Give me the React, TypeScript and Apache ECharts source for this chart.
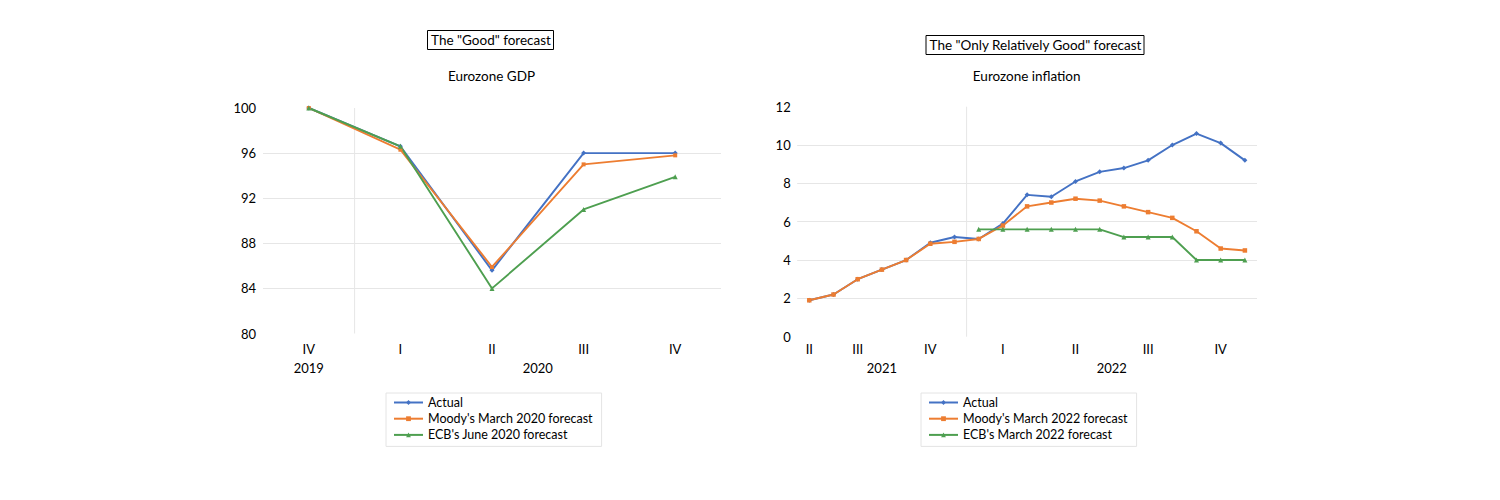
import React, { useEffect, useRef } from "react";
import * as echarts from "echarts";

// Eurozone GDP index (Q4 2019 = 100)
const gdpQuarters = ["2019 Q4", "2020 Q1", "2020 Q2", "2020 Q3", "2020 Q4"];
const gdpQuarterLabels = ["IV", "I", "II", "III", "IV"];
const gdpYearLabels = ["2019", "2020"];
const gdpYearStarts = [0, 1];
const gdpActual = [100, 96.6, 85.6, 96.0, 96.0];
const gdpMoodys = [100, 96.3, 85.9, 95.0, 95.8];
const gdpEcb = [100, 96.6, 84.0, 91.0, 93.9];
const gdpNames = ["Actual", "Moody's March 2020 forecast", "ECB's June 2020 forecast"];

// Eurozone HICP inflation, % y/y, monthly
const inflMonths = [
  "Jun 2021", "Jul 2021", "Aug 2021", "Sep 2021", "Oct 2021", "Nov 2021", "Dec 2021",
  "Jan 2022", "Feb 2022", "Mar 2022", "Apr 2022", "May 2022", "Jun 2022",
  "Jul 2022", "Aug 2022", "Sep 2022", "Oct 2022", "Nov 2022", "Dec 2022",
];
const inflQuarterLabels = [
  "II", "", "III", "", "", "IV", "",
  "", "I", "", "", "II", "", "", "III", "", "", "IV", "",
];
const inflYearLabels = ["2021", "2022"];
const inflYearStarts = [0, 7];
const inflActual = [1.9, 2.2, 3.0, 3.5, 4.0, 4.9, 5.2, 5.1, 5.9, 7.4, 7.3, 8.1, 8.6, 8.8, 9.2, 10.0, 10.6, 10.1, 9.2];
const inflMoodys = [1.9, 2.2, 3.0, 3.5, 4.0, 4.85, 4.95, 5.1, 5.8, 6.8, 7.0, 7.2, 7.1, 6.8, 6.5, 6.2, 5.5, 4.6, 4.5];
const inflEcb = [null, null, null, null, null, null, null, 5.6, 5.6, 5.6, 5.6, 5.6, 5.6, 5.2, 5.2, 5.2, 4.0, 4.0, 4.0];
const inflNames = ["Actual", "Moody's March 2022 forecast", "ECB's March 2022 forecast"];

const FONT = "Lato";
const BLUE = "#4472C4";
const ORANGE = "#ED7D31";
const GREEN = "#4E9F50";
const GRID_LINE = "#e6e6e6";

function lineSeries(name: string, data: (number | null)[], color: string, symbol: string, size: number, idx: number) {
  return {
    type: "line",
    name,
    data,
    xAxisIndex: idx,
    yAxisIndex: idx,
    symbol,
    symbolSize: size,
    showAllSymbol: true,
    connectNulls: false,
    lineStyle: { color, width: 1.9 },
    itemStyle: { color },
    emphasis: { disabled: true },
  };
}

function titleBox(text: string, center: number, top: number) {
  return {
    text,
    left: center - 4,
    top,
    textAlign: "center",
    borderColor: "#000",
    borderWidth: 1,
    padding: [3, 3, 3, 4],
    textStyle: { fontFamily: FONT, fontSize: 13.5, fontWeight: "normal", color: "#000" },
  };
}

function subTitle(text: string, center: number, top: number) {
  return {
    text,
    left: center,
    top,
    textAlign: "center",
    padding: 0,
    textStyle: { fontFamily: FONT, fontSize: 13.5, fontWeight: "normal", color: "#000" },
  };
}

function legendBox(names: string[], left: number) {
  return {
    data: names,
    orient: "vertical",
    left,
    top: 393,
    itemWidth: 29,
    itemHeight: 6,
    itemGap: 3.2,
    padding: [3, 9, 5, 7],
    borderColor: "#e4e4e4",
    borderWidth: 1,
    selectedMode: false,
    textStyle: { fontFamily: FONT, fontSize: 12.5, lineHeight: 13, color: "#000" },
  };
}

export default function App() {
  const ref = useRef<HTMLDivElement>(null);

  useEffect(() => {
    if (!ref.current) return;
    const chart = echarts.init(ref.current, undefined, { renderer: "svg" });

    const axisText = { fontFamily: FONT, fontSize: 13, color: "#000" };

    chart.setOption({
      animation: false,
      backgroundColor: "#fff",
      textStyle: { fontFamily: FONT },
      title: [
        titleBox('The "Good" forecast', 491, 30),
        subTitle("Eurozone GDP", 491.5, 69),
        titleBox('The "Only Relatively Good" forecast', 1035.5, 35),
        subTitle("Eurozone inflation", 1026.7, 69),
      ],
      legend: [legendBox(gdpNames, 386), legendBox(inflNames, 921)],
      grid: [
        { left: 263, top: 108, width: 458, height: 225.5 },
        { left: 797.2, top: 106.7, width: 459.8, height: 230 },
      ],
      xAxis: [
        {
          type: "category",
          gridIndex: 0,
          data: gdpQuarters,
          boundaryGap: true,
          axisLine: { show: false },
          axisTick: { show: false },
          axisLabel: { ...axisText, interval: 0, margin: 8.5, formatter: (_v: string, i: number) => gdpQuarterLabels[i] },
          splitLine: { show: false },
        },
        {
          type: "category",
          gridIndex: 1,
          data: inflMonths,
          boundaryGap: true,
          axisLine: { show: false },
          axisTick: { show: false },
          axisLabel: { ...axisText, interval: 0, margin: 5.3, formatter: (_v: string, i: number) => inflQuarterLabels[i] },
          splitLine: { show: false },
        },
      ],
      yAxis: [
        {
          type: "value",
          gridIndex: 0,
          min: 80,
          max: 100,
          interval: 4,
          axisLine: { show: false },
          axisTick: { show: false },
          axisLabel: { ...axisText, margin: 7 },
          splitLine: { show: true, showMinLine: false, showMaxLine: false, lineStyle: { color: GRID_LINE, width: 1 } },
        },
        {
          type: "value",
          gridIndex: 1,
          min: 0,
          max: 12,
          interval: 2,
          axisLine: { show: false },
          axisTick: { show: false },
          axisLabel: { ...axisText, margin: 6.5 },
          splitLine: { show: true, showMinLine: false, showMaxLine: false, lineStyle: { color: GRID_LINE, width: 1 } },
        },
      ],
      series: [
        lineSeries(gdpNames[0], gdpActual, BLUE, "diamond", 5, 0),
        lineSeries(gdpNames[1], gdpMoodys, ORANGE, "rect", 4, 0),
        lineSeries(gdpNames[2], gdpEcb, GREEN, "triangle", 5, 0),
        lineSeries(inflNames[0], inflActual, BLUE, "diamond", 5, 1),
        lineSeries(inflNames[1], inflMoodys, ORANGE, "rect", 4.5, 1),
        lineSeries(inflNames[2], inflEcb, GREEN, "triangle", 5, 1),
      ],
    });

    // Year labels under each group of quarters, plus the separator between years
    const overlay: any[] = [];
    const addYears = (axisIndex: number, cats: string[], labels: string[], starts: number[], yMin: number, yMax: number) => {
      const px = (i: number) => chart.convertToPixel({ xAxisIndex: axisIndex }, cats[i]) as number;
      const band = px(1) - px(0);
      const top = chart.convertToPixel({ yAxisIndex: axisIndex }, yMax) as number;
      const bottom = chart.convertToPixel({ yAxisIndex: axisIndex }, yMin) as number;
      labels.forEach((label, g) => {
        const start = starts[g];
        const end = g + 1 < starts.length ? starts[g + 1] - 1 : cats.length - 1;
        const x0 = px(start) - band / 2;
        const x1 = px(end) + band / 2;
        overlay.push({
          type: "text",
          x: (x0 + x1) / 2,
          y: 368.3,
          style: { text: label, fontFamily: FONT, fontSize: 13, fill: "#000", align: "center", verticalAlign: "middle" },
        });
        if (g > 0) {
          overlay.push({
            type: "line",
            silent: true,
            shape: { x1: x0, y1: top, x2: x0, y2: bottom },
            style: { stroke: GRID_LINE, lineWidth: 1 },
          });
        }
      });
    };
    addYears(0, gdpQuarters, gdpYearLabels, gdpYearStarts, 80, 100);
    addYears(1, inflMonths, inflYearLabels, inflYearStarts, 0, 12);
    chart.setOption({ graphic: overlay });

    return () => chart.dispose();
  }, []);

  return (
    <div
      ref={ref}
      style={{ position: "absolute", left: 0, top: 0, width: 1500, height: 500, background: "#fff" }}
    />
  );
}
